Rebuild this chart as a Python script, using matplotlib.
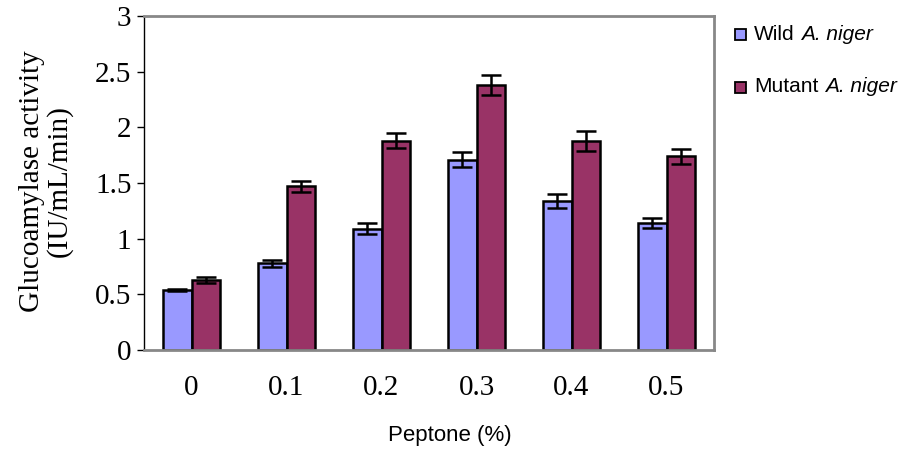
import matplotlib
matplotlib.use("Agg")
import matplotlib.pyplot as plt
import numpy as np
from matplotlib.patches import Rectangle

categories = ["0", "0.1", "0.2", "0.3", "0.4", "0.5"]
wild = [0.54, 0.78, 1.09, 1.71, 1.34, 1.14]
wild_err = [0.01, 0.03, 0.05, 0.065, 0.065, 0.045]
mutant = [0.63, 1.47, 1.88, 2.38, 1.88, 1.74]
mutant_err = [0.03, 0.05, 0.065, 0.09, 0.09, 0.065]
series_names = ["Wild", "Mutant"]

fig = plt.figure(figsize=(9.16, 4.51), dpi=100)
ax = fig.add_axes([144/916, 1-350/451, (714-144)/916, (350-16)/451])

x = np.arange(len(categories))
w = 0.3
ekw = dict(elinewidth=1.8, capthick=1.8)
ax.bar(x - w/2, wild, w, color="#9999FF", edgecolor="black", linewidth=1.8,
       yerr=wild_err, capsize=7, error_kw=ekw, zorder=2)
ax.bar(x + w/2, mutant, w, color="#993366", edgecolor="black", linewidth=1.8,
       yerr=mutant_err, capsize=7, error_kw=ekw, zorder=2)

ax.set_xlim(-0.5, len(categories) - 0.5)
ax.set_ylim(0, 3)
ax.set_yticks(np.arange(0, 3.01, 0.5))
ax.set_yticklabels(["0", "0.5", "1", "1.5", "2", "2.5", "3"],
                   family="Liberation Serif", fontsize=21)
ax.set_xticks(x)
ax.set_xticklabels(categories, family="Liberation Serif", fontsize=21)
ax.tick_params(axis="x", length=0, pad=18)
ax.tick_params(axis="y", direction="out", length=5, width=1, color="black", pad=4)

for s in ["top", "right", "bottom"]:
    ax.spines[s].set_color("#888888")
    ax.spines[s].set_linewidth(2)
ax.spines["left"].set_color("black")
ax.spines["left"].set_linewidth(1)

fig.text(46/916, 1-181/451, "Glucoamylase activity\n(IU/mL/min)", rotation=90,
         ha="center", va="center", family="Liberation Serif", fontsize=21,
         linespacing=1.05)
fig.text(450/916, 1-436/451, "Peptone (%)", ha="center", va="center",
         family="Liberation Sans", fontsize=16)

colors = ["#9999FF", "#993366"]
ys = [34, 87]
for name, c, yy in zip(series_names, colors, ys):
    fig.patches.append(Rectangle((735/916, 1-(yy+6)/451), 11/916, 11/451,
                                 transform=fig.transFigure, facecolor=c,
                                 edgecolor="black", linewidth=1.3))
    t1 = fig.text(754/916, 1-yy/451, name, ha="left", va="center",
                  family="Liberation Sans", fontsize=15)
    fig.text(0, 0, "A. niger", ha="left", va="center", family="Liberation Sans",
             fontsize=15, style="italic",
             transform=matplotlib.transforms.offset_copy(
                 fig.transFigure, fig=fig, x=0, y=0, units="points"))
    fig.texts[-1].remove()
    ax.annotate("A. niger", xy=(1, 0.5), xycoords=t1, xytext=(4.5, 0),
                textcoords="offset points", ha="left", va="center",
                family="Liberation Sans", fontsize=15, style="italic",
                annotation_clip=False)

fig.savefig("out.png", dpi=100)
